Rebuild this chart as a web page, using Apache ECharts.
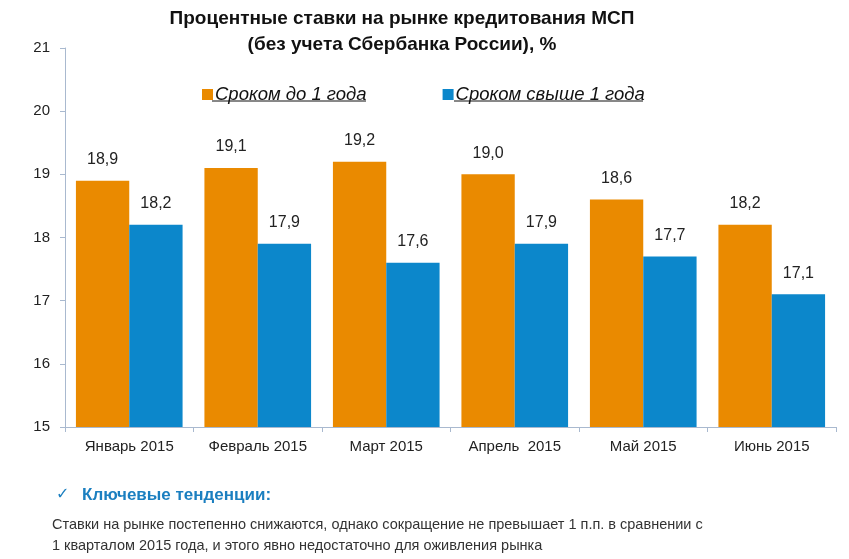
<!DOCTYPE html>
<html><head><meta charset="utf-8">
<script src="https://cdn.jsdelivr.net/npm/echarts@6/dist/echarts.min.js"></script>
<style>html,body{margin:0;padding:0;background:#fff}#c{width:849px;height:559px}</style>
</head><body><div id="c"></div>
<script>
var categories = ['Январь 2015','Февраль 2015','Март 2015','Апрель  2015','Май 2015','Июнь 2015'];
var shortTerm = [18.9, 19.1, 19.2, 19.0, 18.6, 18.2];
var longTerm = [18.2, 17.9, 17.6, 17.9, 17.7, 17.1];
var seriesNames = ['Сроком до 1 года','Сроком свыше 1 года'];
var titleText = 'Процентные ставки на рынке кредитования МСП\n(без учета Сбербанка России), %';
var noteHead = 'Ключевые тенденции:';
var noteBody = 'Ставки на рынке постепенно снижаются, однако сокращение не превышает 1 п.п. в сравнении с\n1 кварталом 2015 года, и этого явно недостаточно для оживления рынка';

var chart = echarts.init(document.getElementById('c'), null, {renderer:'canvas'});
var fmt = function(p){ return p.value.toFixed(1).replace('.', ','); };
var axisColor = '#A9B9CF';
chart.setOption({
  animation:false,
  title:{text:titleText, left:397, top:1, textAlign:'center',
    textStyle:{fontFamily:'Liberation Sans, Arial', fontWeight:'bold', fontSize:19, color:'#111', lineHeight:26}},
  legend:{top:80, left:197, itemGap:76, itemWidth:11, itemHeight:11, icon:'rect',
    textStyle:{fontFamily:'Liberation Sans, Arial', fontStyle:'italic', fontSize:18.5, color:'#111', padding:[0,0,0,-3]},
    data:seriesNames},
  grid:{left:65, right:13, top:48, bottom:132},
  xAxis:{type:'category', data:categories,
    axisLine:{lineStyle:{color:axisColor}},
    axisTick:{show:true, length:5, lineStyle:{color:axisColor}},
    axisLabel:{margin:12, fontFamily:'Liberation Sans Narrow, Liberation Sans, Arial', fontSize:15, color:'#222'}},
  yAxis:{type:'value', min:15, max:21, interval:1,
    axisLine:{show:true, lineStyle:{color:axisColor}},
    axisTick:{show:true, length:5, lineStyle:{color:axisColor}},
    splitLine:{show:false},
    axisLabel:{margin:15, fontFamily:'Liberation Sans, Arial', fontSize:15, color:'#222'}},
  series:[
    {name:seriesNames[0], type:'bar', data:shortTerm, barGap:'0%', barCategoryGap:'17%',
     itemStyle:{color:'#EA8A00'},
     label:{show:true, position:'top', distance:13, formatter:fmt, fontFamily:'Liberation Sans, Arial', fontSize:16, color:'#222'}},
    {name:seriesNames[1], type:'bar', data:longTerm,
     itemStyle:{color:'#0C87CB'},
     label:{show:true, position:'top', distance:13, formatter:fmt, fontFamily:'Liberation Sans, Arial', fontSize:16, color:'#222'}}
  ],
  graphic:[
    {type:'line', shape:{x1:212, y1:101, x2:366, y2:101}, style:{stroke:'#111', lineWidth:1}},
    {type:'line', shape:{x1:454, y1:101, x2:643, y2:101}, style:{stroke:'#111', lineWidth:1}},
    {type:'text', left:56, top:487, style:{text:'✓', fontSize:16, fill:'#1B7FC0', fontFamily:'DejaVu Sans'}},
    {type:'text', left:82, top:487, style:{text:noteHead, fontSize:17, fontWeight:'bold', fill:'#1B7FC0', fontFamily:'Liberation Sans, Arial'}},
    {type:'text', left:52, top:514, style:{text:noteBody, fontSize:14.5, lineHeight:21, fill:'#333', fontFamily:'Liberation Sans, Arial'}}
  ]
});
</script></body></html>
